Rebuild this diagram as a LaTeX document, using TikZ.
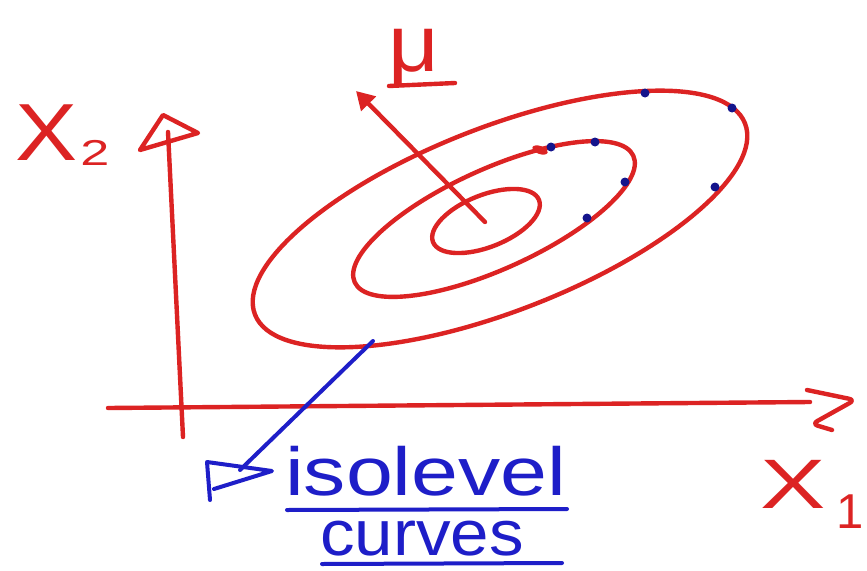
\documentclass[tikz,border=0pt]{standalone}
\usepackage{fontspec}
\setmainfont{Liberation Sans}
\usepackage{graphicx}
\usetikzlibrary{arrows.meta}
\definecolor{pen}{RGB}{220,35,35}
\definecolor{ink}{RGB}{30,30,200}
\definecolor{dotc}{RGB}{20,20,140}
\begin{document}
\begin{tikzpicture}[x=1pt,y=-1pt,
  redline/.style={draw=pen,line width=4.4pt,line cap=round,line join=round},
  blueline/.style={draw=ink,line width=4pt,line cap=round,line join=round},
  dotmark/.style={fill=dotc,circle,inner sep=0pt,minimum size=9pt},
  lbl/.style={inner sep=0pt,anchor=base west}]
\useasboundingbox[fill=white] (0,0) rectangle (867,570);

% axes
\coordinate (o2) at (183,437);
\coordinate (t2) at (168,132);
\draw[redline] (o2) -- (t2);
\draw[redline] (140,150) -- (163,115) -- (198,133) -- cycle;
\coordinate (o1) at (108,408);
\coordinate (t1) at (810,402);
\draw[redline] (o1) -- (t1);
\draw[redline,rounded corners=6pt] (807,390) -- (855,400) -- (812,424) -- (832,430);

% isolevel curves
\draw[redline,rotate around={21.3:(500,219)}] (500,219) ellipse [x radius=263,y radius=92];
\draw[redline,rotate around={24.4:(494,219)}] (494,219) ellipse [x radius=153,y radius=50];
\draw[redline,rotate around={21.7:(486,221)}] (486,221) ellipse [x radius=57,y radius=26];
\fill[pen,rotate around={-20:(540,150)}] (540,150) ellipse [x radius=8,y radius=4];

% blue dots
\node[dotmark] (d1) at (645,93) {};
\node[dotmark] (d2) at (732,108) {};
\node[dotmark] (d3) at (715,187) {};
\node[dotmark] (d4) at (551,147) {};
\node[dotmark] (d5) at (595,142) {};
\node[dotmark] (d6) at (625,182) {};
\node[dotmark] (d7) at (587,218) {};

% mean arrow
\coordinate (muc) at (485,222);
\coordinate (mutip) at (356,91);
\draw[redline,-{Triangle[length=18pt,width=20pt]}] (muc) -- (mutip);
\node[lbl,text=pen] (mu) at (388,71) {\fontsize{80}{80}\selectfont\scalebox{1.1}[1]{μ}};
\draw[redline] (389,86) -- (455,83);

% axis labels
\node[lbl,text=pen] (x2) at (15,160) {\fontsize{81}{81}\selectfont\scalebox{1.15}[1]{X}\hspace{3pt}\raisebox{-5pt}{\fontsize{36}{36}\selectfont\scalebox{1.45}[1]{2}}};
\node[lbl,text=pen] (x1) at (760,508) {\fontsize{70}{70}\selectfont\scalebox{1.4}[1]{X}\hspace{11pt}\raisebox{-20pt}{\fontsize{49}{49}\selectfont 1}};

% isolevel label and connector
\node[lbl,text=ink] (iso) at (285,495) {\fontsize{68}{68}\selectfont\scalebox{1.24}[1]{isolevel}};
\draw[blueline] (287,510) -- (567,509);
\node[lbl,text=ink] (cur) at (320,555) {\fontsize{64}{64}\selectfont\scalebox{1.08}[1]{curves}};
\draw[blueline] (322,564) -- (562,563);
\coordinate (ebot) at (373,341);
\coordinate (btip) at (240,470);
\draw[blueline] (ebot) -- (btip);
\draw[blueline] (210,500) -- (207,462) -- (272,471) -- (214,489);
\end{tikzpicture}
\end{document}
